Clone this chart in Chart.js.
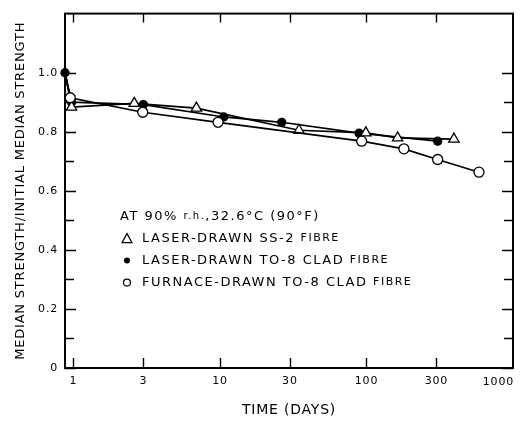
<!DOCTYPE html>
<html>
<head>
<meta charset="utf-8">
<title>Median strength vs time</title>
<script src="https://cdn.jsdelivr.net/npm/chart.js@4.4.1/dist/chart.umd.min.js"></script>
<style>
    html, body { margin: 0; padding: 0; background: #fff; }
    #chart { display: block; }
</style>
</head>
<body>
<canvas id="chart" width="525" height="422"></canvas>
<script>
// values: time in days, median strength / initial median strength
const ssTime = [0.875, 0.97, 2.6, 6.9, 34.6, 99, 163, 395];
const ssStrength = [1.0, 0.883, 0.896, 0.88, 0.805, 0.796, 0.779, 0.775];

const laserTo8Time = [0.875, 0.97, 3, 10.6, 26.4, 89, 306];
const laserTo8Strength = [1.0, 0.90, 0.892, 0.85, 0.832, 0.795, 0.768];

const furnaceTo8Time = [0.875, 0.95, 2.97, 9.7, 92.7, 180, 306, 586];
const furnaceTo8Strength = [1.0, 0.915, 0.866, 0.832, 0.768, 0.742, 0.706, 0.663];

const xTicks = [1, 3, 10, 30, 100, 300, 1000];
const yTicks = [0, 0.2, 0.4, 0.6, 0.8, 1.0];
const yMinorTicks = [0.1, 0.3, 0.5, 0.7, 0.9];

const legendTitle = [["AT 90% ", 13], ["r.h.", 10], [",32.6°C (90°F)", 13]];
const seriesNames = ["LASER-DRAWN SS-2 ", "LASER-DRAWN TO-8 CLAD ", "FURNACE-DRAWN TO-8 CLAD "];
const seriesSuffix = "FIBRE";

const INK = "#000";
const FONT = "'DejaVu Sans', sans-serif";

function points(xs, ys) {
    return xs.map((x, i) => ({x: x, y: ys[i]}));
}

// draws a run of text pieces with different sizes, left to right
function drawPieces(ctx, x, y, pieces) {
    pieces.forEach(p => {
        ctx.font = p[1] + "px " + FONT;
        ctx.fillText(p[0], x, y);
        x += ctx.measureText(p[0]).width;
    });
}

const textSpacing = {
    id: "textSpacing",
    beforeDraw(chart) {
        chart.ctx.letterSpacing = "0.8px";
    }
};

// box round the plot and inward tick marks, like the printed figure
const frameTicks = {
    id: "frameTicks",
    beforeDatasetsDraw(chart) {
        const {ctx, chartArea: a, scales: {x, y}} = chart;
        ctx.save();
        ctx.strokeStyle = INK;
        ctx.lineWidth = 2;
        ctx.strokeRect(a.left, a.top, a.right - a.left, a.bottom - a.top);
        ctx.lineWidth = 1.4;
        ctx.beginPath();
        xTicks.slice(0, -1).forEach(v => {
            let px = Math.round(x.getPixelForValue(v)) + 0.5;
            ctx.moveTo(px, a.bottom); ctx.lineTo(px, a.bottom - 10);
            ctx.moveTo(px, a.top); ctx.lineTo(px, a.top + 9);
        });
        yTicks.concat(yMinorTicks).forEach(v => {
            let py = Math.round(y.getPixelForValue(v)) + 0.5;
            let len = yTicks.includes(v) ? 11 : 9;
            ctx.moveTo(a.left, py); ctx.lineTo(a.left + len, py);
            ctx.moveTo(a.right, py); ctx.lineTo(a.right - len, py);
        });
        ctx.stroke();
        // last x label sits flush with the right edge
        ctx.fillStyle = INK;
        ctx.font = "11px " + FONT;
        ctx.textAlign = "right";
        ctx.textBaseline = "middle";
        ctx.fillText(String(xTicks[xTicks.length - 1]), a.right + 1, a.bottom + 14);
        ctx.restore();
    }
};

const keyInPlot = {
    id: "keyInPlot",
    afterDatasetsDraw(chart) {
        const {ctx, chartArea: a} = chart;
        const left = a.left + 55, top = a.top + 203, row = 22;
        ctx.save();
        ctx.letterSpacing = "1.5px";
        ctx.fillStyle = INK;
        ctx.strokeStyle = INK;
        ctx.textBaseline = "middle";
        ctx.textAlign = "left";
        drawPieces(ctx, left, top, legendTitle);
        seriesNames.forEach((name, i) => {
            let cy = top + row * (i + 1);
            let cx = left + 7;
            ctx.lineWidth = 1.2;
            ctx.beginPath();
            if (i === 0) {
                ctx.moveTo(cx, cy - 5); ctx.lineTo(cx + 5, cy + 4); ctx.lineTo(cx - 5, cy + 4); ctx.closePath();
                ctx.stroke();
            } else {
                ctx.arc(cx, cy, i === 1 ? 3 : 3.5, 0, Math.PI * 2);
                if (i === 1) ctx.fill(); else ctx.stroke();
            }
            drawPieces(ctx, left + 22, cy, [[name, 13], [seriesSuffix, 11]]);
        });
        ctx.restore();
    }
};

const lineStyle = {
    borderColor: INK,
    borderWidth: 1.7,
    pointBorderColor: INK,
    pointBorderWidth: 1.3,
    pointBackgroundColor: "#fff",
    tension: 0,
    clip: false
};

new Chart(document.getElementById("chart"), {
    type: "line",
    data: {
        datasets: [
            Object.assign({}, lineStyle, {
                label: seriesNames[2] + seriesSuffix,
                data: points(furnaceTo8Time, furnaceTo8Strength),
                pointStyle: "circle",
                pointRadius: c => c.dataIndex === 0 ? 0 : 5
            }),
            Object.assign({}, lineStyle, {
                label: seriesNames[0] + seriesSuffix,
                data: points(ssTime, ssStrength),
                pointStyle: "triangle",
                pointRadius: c => c.dataIndex === 0 ? 0 : 6
            }),
            Object.assign({}, lineStyle, {
                label: seriesNames[1] + seriesSuffix,
                data: points(laserTo8Time, laserTo8Strength),
                pointStyle: "circle",
                pointBackgroundColor: INK,
                pointRadius: 4
            })
        ]
    },
    options: {
        responsive: false,
        animation: false,
        devicePixelRatio: 1,
        layout: {padding: {left: 0, right: 12, top: 12, bottom: 0}},
        plugins: {
            legend: {display: false},
            tooltip: {enabled: false}
        },
        scales: {
            x: {
                type: "logarithmic",
                min: 0.875,
                max: 1000,
                grid: {display: false, drawTicks: false},
                border: {display: false},
                afterBuildTicks: scale => { scale.ticks = xTicks.map(v => ({value: v})); },
                afterFit: scale => {
                    scale.height = 54;
                    scale.paddingLeft = 0;
                    scale.paddingRight = 0;
                },
                ticks: {
                    autoSkip: false,
                    maxRotation: 0,
                    padding: 7,
                    color: INK,
                    font: {family: FONT, size: 11},
                    callback: v => v === 1000 ? "" : String(v)
                },
                title: {
                    display: true,
                    text: "TIME (DAYS)",
                    color: INK,
                    font: {family: FONT, size: 14},
                    padding: {top: 0, bottom: 3}
                }
            },
            y: {
                min: 0,
                max: 1.2,
                grid: {display: false, drawTicks: false},
                border: {display: false},
                afterBuildTicks: scale => { scale.ticks = yTicks.map(v => ({value: v})); },
                afterFit: scale => { scale.width = 65; },
                ticks: {
                    padding: 7,
                    color: INK,
                    font: {family: FONT, size: 11},
                    callback: v => v === 0 ? "0" : v.toFixed(1)
                },
                title: {
                    display: true,
                    text: "MEDIAN STRENGTH/INITIAL MEDIAN STRENGTH",
                    color: INK,
                    font: {family: FONT, size: 13},
                    padding: {top: 13, bottom: 0}
                }
            }
        }
    },
    plugins: [textSpacing, frameTicks, keyInPlot]
});
</script>
</body>
</html>
